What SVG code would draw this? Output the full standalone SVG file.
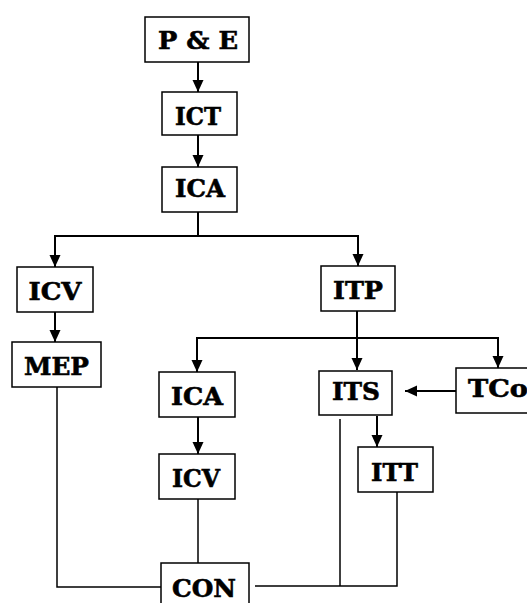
<svg xmlns="http://www.w3.org/2000/svg" width="527" height="603" viewBox="0 0 527 603">
<style>
.box{fill:#fff;stroke:#000;stroke-width:1.5}
.lbl{font-family:"DejaVu Serif","Liberation Serif",serif;font-weight:bold;font-size:25px;fill:#000;stroke:#000;stroke-width:0.6;text-anchor:middle}
.arr{fill:none;stroke:#000;stroke-width:2;marker-end:url(#ah)}
.ln{fill:none;stroke:#000;stroke-width:1.5}
.ln2{fill:none;stroke:#000;stroke-width:2}
</style>
<defs>
<marker id="ah" markerUnits="userSpaceOnUse" markerWidth="12" markerHeight="12" refX="12" refY="5.5" orient="auto">
<path d="M0,0 L12,5.5 L0,11 z" fill="#000"/>
</marker>
</defs>
<rect width="527" height="603" fill="#fff"/>
<g id="connectors">
<line class="arr" x1="198" y1="62" x2="198" y2="92"/>
<line class="arr" x1="198" y1="135" x2="198" y2="167"/>
<polyline class="ln2" points="198,212 198,236"/>
<polyline class="arr" points="198,236 55,236 55,267"/>
<polyline class="arr" points="198,236 358,236 358,266"/>
<line class="arr" x1="55" y1="312" x2="55" y2="342"/>
<polyline class="ln2" points="357,311 357,338"/>
<line class="arr" x1="357" y1="338" x2="357" y2="370"/>
<polyline class="arr" points="357,338 197,338 197,372"/>
<polyline class="arr" points="357,338 498,338 498,368"/>
<line class="arr" x1="456" y1="391" x2="405" y2="391"/>
<line class="arr" x1="377" y1="416" x2="377" y2="447"/>
<line class="arr" x1="198" y1="417" x2="198" y2="454"/>
<line class="ln" x1="198" y1="499" x2="198" y2="563"/>
<polyline class="ln" points="57,387 57,587 161,587"/>
<polyline class="ln" points="340,419 340,586"/>
<polyline class="ln" points="255,586 397,586 397,492"/>
</g>
<g id="n-pe"><rect class="box" x="145" y="17" width="104" height="45"/><text class="lbl" x="198" y="49" textLength="80" lengthAdjust="spacingAndGlyphs">P &amp; E</text></g>
<g id="n-ict"><rect class="box" x="162" y="92" width="75" height="43"/><text class="lbl" x="198" y="125" textLength="46" lengthAdjust="spacingAndGlyphs">ICT</text></g>
<g id="n-ica1"><rect class="box" x="162" y="167" width="75" height="45"/><text class="lbl" x="200" y="197" textLength="50" lengthAdjust="spacingAndGlyphs">ICA</text></g>
<g id="n-icv1"><rect class="box" x="17" y="267" width="76" height="45"/><text class="lbl" x="55" y="300" textLength="53" lengthAdjust="spacingAndGlyphs">ICV</text></g>
<g id="n-mep"><rect class="box" x="12" y="342" width="89" height="45"/><text class="lbl" x="56.5" y="375" textLength="65" lengthAdjust="spacingAndGlyphs">MEP</text></g>
<g id="n-itp"><rect class="box" x="321" y="266" width="74" height="45"/><text class="lbl" x="358" y="299" textLength="50" lengthAdjust="spacingAndGlyphs">ITP</text></g>
<g id="n-ica2"><rect class="box" x="159" y="372" width="76" height="45"/><text class="lbl" x="197" y="405" textLength="52" lengthAdjust="spacingAndGlyphs">ICA</text></g>
<g id="n-its"><rect class="box" x="319" y="371" width="73" height="44"/><text class="lbl" x="356" y="400" textLength="48" lengthAdjust="spacingAndGlyphs">ITS</text></g>
<g id="n-tco"><rect class="box" x="456" y="368" width="80" height="45"/><text class="lbl" x="498" y="397" textLength="60" lengthAdjust="spacingAndGlyphs">TCo</text></g>
<g id="n-icv2"><rect class="box" x="159" y="454" width="76" height="45"/><text class="lbl" x="196" y="487" textLength="48" lengthAdjust="spacingAndGlyphs">ICV</text></g>
<g id="n-itt"><rect class="box" x="358" y="447" width="75" height="45"/><text class="lbl" x="394.5" y="481" textLength="47" lengthAdjust="spacingAndGlyphs">ITT</text></g>
<g id="n-con"><rect class="box" x="161" y="563" width="88" height="50"/><text class="lbl" x="204" y="597" textLength="64" lengthAdjust="spacingAndGlyphs">CON</text></g>
</svg>
